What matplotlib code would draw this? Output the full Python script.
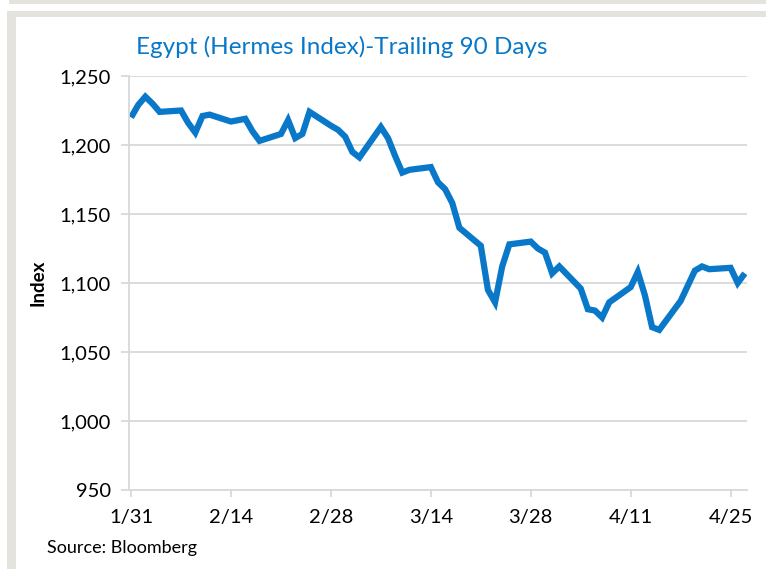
import matplotlib
matplotlib.use("Agg")
import matplotlib.pyplot as plt
from matplotlib.patches import Rectangle
from matplotlib.ticker import FuncFormatter
import pandas as pd

# trading days (Sun-Thu), Jan 31 - Apr 27
dates = [
    "2021-01-31", "2021-02-01", "2021-02-02", "2021-02-03", "2021-02-04",
    "2021-02-07", "2021-02-08", "2021-02-09", "2021-02-10", "2021-02-11",
    "2021-02-14", "2021-02-15", "2021-02-16", "2021-02-17", "2021-02-18",
    "2021-02-21", "2021-02-22", "2021-02-23", "2021-02-24", "2021-02-25",
    "2021-02-28", "2021-03-01", "2021-03-02", "2021-03-03", "2021-03-04",
    "2021-03-07", "2021-03-08", "2021-03-09", "2021-03-10", "2021-03-11",
    "2021-03-14", "2021-03-15", "2021-03-16", "2021-03-17", "2021-03-18",
    "2021-03-21", "2021-03-22", "2021-03-23", "2021-03-24", "2021-03-25",
    "2021-03-28", "2021-03-29", "2021-03-30", "2021-03-31", "2021-04-01",
    "2021-04-04", "2021-04-05", "2021-04-06", "2021-04-07", "2021-04-08",
    "2021-04-11", "2021-04-12", "2021-04-13", "2021-04-14", "2021-04-15",
    "2021-04-18", "2021-04-19", "2021-04-20", "2021-04-21", "2021-04-22",
    "2021-04-25", "2021-04-26", "2021-04-27",
]
index_vals = [
    1220, 1229, 1235, 1230, 1224,
    1225, 1216, 1209, 1221, 1222,
    1217, 1218, 1219, 1210, 1203,
    1208, 1218, 1205, 1208, 1224,
    1214, 1211, 1206, 1195, 1191,
    1213, 1205, 1192, 1180, 1182,
    1184, 1173, 1168, 1158, 1140,
    1127, 1095, 1086, 1112, 1128,
    1130, 1125, 1122, 1107, 1112,
    1096, 1081, 1080, 1075, 1086,
    1097, 1108, 1091, 1068, 1066,
    1087, 1098, 1109, 1112, 1110,
    1111, 1100, 1107,
]
tick_dates = ["2021-01-31", "2021-02-14", "2021-02-28", "2021-03-14",
              "2021-03-28", "2021-04-11", "2021-04-25"]
tick_labels = ["1/31", "2/14", "2/28", "3/14", "3/28", "4/11", "4/25"]

W, H = 766, 569
plt.rcParams['font.family'] = ['Lato', 'DejaVu Sans']

fig = plt.figure(figsize=(W / 100, H / 100), dpi=100)
fig.patch.set_facecolor("white")

# grey frame around the panel
frame_col = "#e4e3de"
def px_rect(x0, y0, x1, y1):
    fig.add_artist(Rectangle((x0 / W, 1 - y1 / H), (x1 - x0) / W, (y1 - y0) / H,
                             transform=fig.transFigure, color=frame_col, lw=0))
px_rect(9, 0, W, 4)
px_rect(7, 11, W, 17)
px_rect(7, 11, 16, H)

ax = fig.add_axes([129 / W, 1 - 490 / H, (747 - 129) / W, (490 - 76) / H])

x = pd.to_datetime(dates)
ax.plot(x, index_vals, color="#0a78c8", lw=4.5, solid_joinstyle="miter",
        solid_capstyle="butt")

start = pd.Timestamp("2021-01-31")
ax.set_xlim(start - pd.Timedelta(hours=7), start + pd.Timedelta(days=86.3))
ax.set_ylim(950, 1250)
ax.set_yticks(range(950, 1251, 50))
ax.yaxis.set_major_formatter(FuncFormatter(lambda v, p: f"{int(v):,}"))
ax.set_xticks(pd.to_datetime(tick_dates))
ax.set_xticklabels(tick_labels)

grid_col = "#d9d9d9"
ax.grid(axis="y", color=grid_col, lw=1.3)
ax.set_axisbelow(True)
for s in ["top", "right"]:
    ax.spines[s].set_visible(False)
ax.spines["left"].set_color(grid_col)
ax.spines["bottom"].set_color(grid_col)
ax.spines["left"].set_linewidth(1.3)
ax.spines["bottom"].set_linewidth(1.3)
ax.tick_params(axis="y", length=6, color=grid_col, width=1.3, labelsize=14.5, pad=7)
ax.tick_params(axis="x", length=5, color=grid_col, width=1.3, labelsize=14.5, pad=9)

ax.set_ylabel("Index", fontsize=13.5, fontweight="bold")
ax.yaxis.set_label_coords((46 - 129) / 618, 0.5)

fig.text(136 / W, 1 - 47 / H, "Egypt (Hermes Index)-Trailing 90 Days",
         color="#0a78c8", fontsize=17.5, ha="left", va="center")
fig.text(47 / W, 1 - 548 / H, "Source: Bloomberg", fontsize=13,
         ha="left", va="center")

fig.savefig("out.png", dpi=100)
